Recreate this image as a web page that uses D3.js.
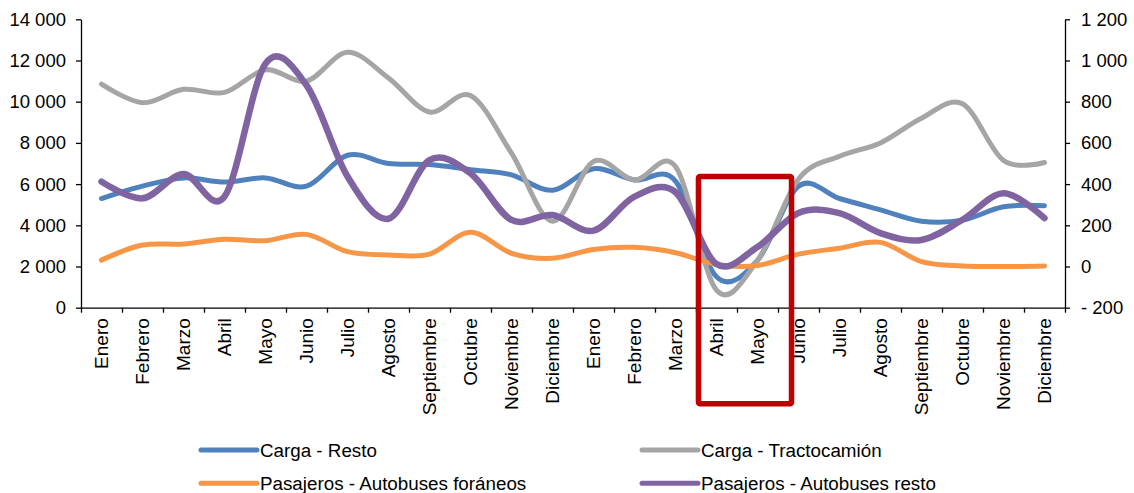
<!DOCTYPE html>
<html>
<head>
<meta charset="utf-8">
<script src="https://cdn.jsdelivr.net/npm/d3@7"></script>
<style>
  html, body { margin: 0; padding: 0; background: #ffffff; }
  svg text { font-family: "Liberation Sans", Arial, sans-serif; fill: #000; }
</style>
</head>
<body>
<svg id="chart" width="1134" height="493"></svg>
<script>
// Months for two consecutive years
const months = ["Enero","Febrero","Marzo","Abril","Mayo","Junio","Julio","Agosto",
  "Septiembre","Octubre","Noviembre","Diciembre"];
const categories = months.concat(months);

// Left axis (units)
const cargaResto = [5300, 5900, 6300, 6100, 6300, 5900, 7400, 7000, 6950, 6700, 6450, 5700,
                    6750, 6200, 6150, 1500, 2300, 5900, 5300, 4750, 4200, 4250, 4900, 4950];
const cargaTracto = [10850, 9950, 10600, 10450, 11550, 11000, 12400, 11150, 9500, 10300, 7500, 4200,
                     7100, 6200, 6850, 850, 2300, 6250, 7350, 8000, 9200, 9900, 7150, 7050];
// Right axis (units)
const pasajerosForaneos = [31, 104, 109, 132, 125, 156, 72, 56, 60, 166, 64, 40,
                           83, 93, 67, 10, 5, 60, 89, 117, 24, 3, 0, 3];
const pasajerosResto = [412, 331, 449, 339, 985, 880, 437, 232, 517, 452, 226, 250,
                        174, 339, 361, 12, 95, 260, 259, 162, 129, 227, 356, 235];

const leftTicks = [0, 2000, 4000, 6000, 8000, 10000, 12000, 14000];
const rightTicks = [-200, 0, 200, 400, 600, 800, 1000, 1200];

const series = [
  { name: "Carga - Resto", values: cargaResto, axis: "left", color: "#4F81BD", width: 5 },
  { name: "Carga - Tractocamión", values: cargaTracto, axis: "left", color: "#A5A5A5", width: 5 },
  { name: "Pasajeros - Autobuses foráneos", values: pasajerosForaneos, axis: "right", color: "#F79646", width: 5 },
  { name: "Pasajeros - Autobuses resto", values: pasajerosResto, axis: "right", color: "#8064A2", width: 6.5 }
];

const svg = d3.select("#chart");
const plot = { left: 81, right: 1065, top: 19.3, bottom: 307.7 };

const idx = d3.range(categories.length);
const x = d3.scaleBand().domain(idx).range([plot.left, plot.right]).padding(0);
const xEdge = d3.scaleLinear().domain([0, categories.length]).range([plot.left, plot.right]);
const yL = d3.scaleLinear().domain([0, 14000]).range([plot.bottom, plot.top]);
const yR = d3.scaleLinear().domain([-200, 1200]).range([plot.bottom, plot.top]);

// Thousands separated by a space, negatives as "- 200"
const fmt = v => {
  const s = d3.format(",")(Math.abs(v)).replace(/,/g, " ");
  return v < 0 ? "- " + s : s;
};

// Axes
const gL = svg.append("g").attr("transform", `translate(${plot.left},0)`)
  .call(d3.axisLeft(yL).tickValues(leftTicks).tickFormat(fmt).tickSize(5).tickSizeOuter(0).tickPadding(10));
const gR = svg.append("g").attr("transform", `translate(${plot.right},0)`)
  .call(d3.axisRight(yR).tickValues(rightTicks).tickFormat(fmt).tickSize(5).tickSizeOuter(0).tickPadding(11));
const gB = svg.append("g").attr("transform", `translate(0,${plot.bottom})`)
  .call(d3.axisBottom(xEdge).tickValues(d3.range(categories.length + 1)).tickFormat("").tickSize(5).tickSizeOuter(0));
const gLab = svg.append("g").attr("transform", `translate(0,${plot.bottom})`)
  .call(d3.axisBottom(x).tickFormat(i => categories[i]).tickSize(0).tickSizeOuter(0));
gLab.select(".domain").remove();
gLab.selectAll("text")
  .attr("transform", "rotate(-90)")
  .attr("x", -10.5).attr("y", 0).attr("dy", "0.35em")
  .style("text-anchor", "end")
  .style("font-size", "19px");

[gL, gR].forEach(g => g.selectAll("text").style("font-size", "18.5px"));
[gL, gR, gB].forEach(g => {
  g.selectAll(".domain").attr("stroke", "#000").attr("stroke-width", 1.3);
  g.selectAll(".tick line").attr("stroke", "#000").attr("stroke-width", 1.3);
});

// Smoothed lines
const lines = svg.append("g");
series.forEach(s => {
  const yS = s.axis === "left" ? yL : yR;
  const line = d3.line()
    .x((d, i) => x(i) + x.bandwidth() / 2)
    .y(d => yS(d))
    .curve(d3.curveCardinal.tension(0));
  lines.append("path")
    .datum(s.values)
    .attr("d", line)
    .attr("fill", "none")
    .attr("stroke", s.color)
    .attr("stroke-width", s.width)
    .attr("stroke-linecap", "round")
    .attr("stroke-linejoin", "round");
});

// Highlight box over April–May of the second year
const bw = x.bandwidth();
const boxX0 = x(15) + 0.06 * bw;
const boxX1 = x(16) + 1.33 * bw;
const boxY0 = yL(6370);
const boxY1 = plot.bottom + 96;
svg.append("rect")
  .attr("x", boxX0).attr("y", boxY0)
  .attr("width", boxX1 - boxX0).attr("height", boxY1 - boxY0)
  .attr("fill", "none")
  .attr("stroke", "#C00000")
  .attr("stroke-width", 5.5)
  .attr("rx", 1.5);

// Legend: two columns, two rows
const legend = svg.append("g");
const colX = [201, 642];
const rowY = [450, 483.3];
series.forEach((s, i) => {
  const cx = colX[i % 2], cy = rowY[Math.floor(i / 2)];
  const g = legend.append("g").attr("transform", `translate(${cx},${cy})`);
  g.append("line").attr("x1", 0).attr("x2", 56).attr("y1", 0).attr("y2", 0)
    .attr("stroke", s.color).attr("stroke-width", 5).attr("stroke-linecap", "round");
  g.append("text").attr("x", 59).attr("y", 0).attr("dy", "0.35em")
    .style("font-size", "18.8px").text(s.name);
});
</script>
</body>
</html>
